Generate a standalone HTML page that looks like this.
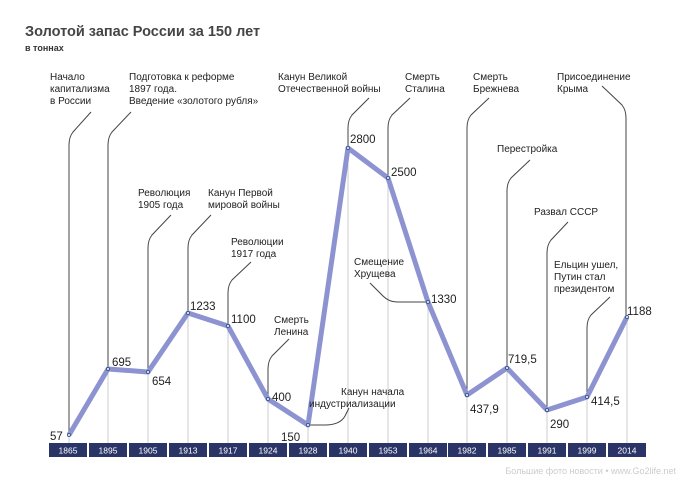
<!DOCTYPE html>
<html><head><meta charset="utf-8"><style>
body{margin:0;background:#fff}
svg text{font-family:"Liberation Sans","DejaVu Sans",sans-serif;fill:#222}
</style></head><body>
<svg width="680" height="481" viewBox="0 0 680 481" xmlns="http://www.w3.org/2000/svg">
<text x="25" y="36" font-size="14.5" font-weight="bold" style="fill:#444">Золотой запас России за 150 лет</text>
<text x="25" y="51" font-size="9" font-weight="bold" style="fill:#333">в тоннах</text>
<g stroke="#ccc" stroke-width="1">
<line x1="69" y1="435" x2="69" y2="443"/><line x1="108" y1="369" x2="108" y2="443"/>
<line x1="148" y1="372" x2="148" y2="443"/><line x1="188" y1="313" x2="188" y2="443"/>
<line x1="228" y1="326" x2="228" y2="443"/><line x1="268" y1="399" x2="268" y2="443"/>
<line x1="308" y1="425" x2="308" y2="443"/><line x1="348" y1="148" x2="348" y2="443"/>
<line x1="388" y1="178" x2="388" y2="443"/><line x1="428" y1="302" x2="428" y2="443"/>
<line x1="467" y1="395" x2="467" y2="443"/><line x1="507" y1="368" x2="507" y2="443"/>
<line x1="547" y1="410" x2="547" y2="443"/><line x1="587" y1="397" x2="587" y2="443"/>
<line x1="627" y1="317" x2="627" y2="443"/>
</g>
<g stroke="#444" stroke-width="1" fill="none">
<path d="M91 112 L73 132 Q69 137 69 145 L69 435"/>
<path d="M131 112 L112 132 Q108 137 108 145 L108 369"/>
<path d="M171 215 L152 235 Q148 240 148 248 L148 372"/>
<path d="M211 215 L192 235 Q188 240 188 248 L188 313"/>
<path d="M251 262 L232 280 Q228 285 228 293 L228 326"/>
<path d="M289 339 L272 356 Q268 361 268 369 L268 399"/>
<path d="M308 425 L325 425 Q340 425 345 416 L349 408"/>
<path d="M369 98 L352 115 Q348 120 348 128 L348 148"/>
<path d="M410 98 L392 115 Q388 120 388 128 L388 178"/>
<path d="M370 283 L383 296 Q389 302 397 302 L428 302"/>
<path d="M489 98 L471 115 Q467 120 467 128 L467 395"/>
<path d="M530 160 L511 178 Q507 183 507 191 L507 368"/>
<path d="M568 222 L551 240 Q547 245 547 253 L547 410"/>
<path d="M610 297 L591 315 Q587 320 587 328 L587 397"/>
<path d="M602 86 L622 105 Q626 110 626 118 L626 317"/>
</g>
<polyline fill="none" stroke="#8c93d0" stroke-width="5" stroke-linejoin="round" points="69,435 108,369 148,372 188,313 228,326 268,399 308,425 348,148 388,178 428,302 467,395 507,368 547,410 587,397 627,317"/>
<g fill="#fff" stroke="#3a5a8a" stroke-width="1">
<circle cx="69" cy="435" r="1.5"/><circle cx="108" cy="369" r="1.5"/><circle cx="148" cy="372" r="1.5"/><circle cx="188" cy="313" r="1.5"/><circle cx="228" cy="326" r="1.5"/><circle cx="268" cy="399" r="1.5"/><circle cx="308" cy="425" r="1.5"/><circle cx="348" cy="148" r="1.5"/><circle cx="388" cy="178" r="1.5"/><circle cx="428" cy="302" r="1.5"/><circle cx="467" cy="395" r="1.5"/><circle cx="507" cy="368" r="1.5"/><circle cx="547" cy="410" r="1.5"/><circle cx="587" cy="397" r="1.5"/><circle cx="627" cy="317" r="1.5"/>
</g>
<g font-size="11.5">
<text x="50" y="440">57</text><text x="112" y="366">695</text><text x="152" y="385">654</text>
<text x="190" y="310">1233</text><text x="231" y="323">1100</text><text x="272" y="401">400</text>
<text x="281" y="441">150</text><text x="350" y="143">2800</text><text x="391" y="176">2500</text>
<text x="431" y="303">1330</text><text x="470" y="413">437,9</text><text x="508" y="363">719,5</text>
<text x="550" y="428">290</text><text x="591" y="405">414,5</text><text x="627" y="315">1188</text>
</g>
<g font-size="10">
<text x="50" y="80">Начало</text><text x="50" y="92">капитализма</text><text x="50" y="104">в России</text>
<text x="129" y="80">Подготовка к реформе</text><text x="129" y="92">1897 года.</text><text x="129" y="104">Введение «золотого рубля»</text>
<text x="138" y="196">Революция</text><text x="138" y="208">1905 года</text>
<text x="208" y="196">Канун Первой</text><text x="208" y="208">мировой войны</text>
<text x="231" y="245">Революции</text><text x="231" y="257">1917 года</text>
<text x="274" y="323">Смерть</text><text x="274" y="335">Ленина</text>
<text x="341" y="395">Канун начала</text><text x="309" y="407">индустриализации</text>
<text x="278" y="80">Канун Великой</text><text x="278" y="92">Отечественной войны</text>
<text x="405" y="80">Смерть</text><text x="405" y="92">Сталина</text>
<text x="354" y="265">Смещение</text><text x="354" y="277">Хрущева</text>
<text x="473" y="80">Смерть</text><text x="473" y="92">Брежнева</text>
<text x="497" y="152">Перестройка</text>
<text x="534" y="215">Развал СССР</text>
<text x="554" y="268">Ельцин ушел,</text><text x="554" y="280">Путин стал</text><text x="554" y="292">президентом</text>
<text x="557" y="80">Присоединение</text><text x="557" y="92">Крыма</text>
</g>
<g fill="#2a3466">
<rect x="49" y="443" width="38" height="14"/><rect x="89" y="443" width="38" height="14"/><rect x="129" y="443" width="38" height="14"/><rect x="169" y="443" width="38" height="14"/><rect x="209" y="443" width="38" height="14"/><rect x="249" y="443" width="38" height="14"/><rect x="289" y="443" width="38" height="14"/><rect x="329" y="443" width="38" height="14"/><rect x="369" y="443" width="38" height="14"/><rect x="409" y="443" width="38" height="14"/><rect x="448" y="443" width="38" height="14"/><rect x="488" y="443" width="38" height="14"/><rect x="528" y="443" width="38" height="14"/><rect x="568" y="443" width="38" height="14"/><rect x="608" y="443" width="38" height="14"/>
</g>
<g font-size="8.5" text-anchor="middle" style="fill:#fff">
<text x="68" y="453.5" style="fill:#fff">1865</text><text x="108" y="453.5" style="fill:#fff">1895</text><text x="148" y="453.5" style="fill:#fff">1905</text><text x="188" y="453.5" style="fill:#fff">1913</text><text x="228" y="453.5" style="fill:#fff">1917</text><text x="268" y="453.5" style="fill:#fff">1924</text><text x="308" y="453.5" style="fill:#fff">1928</text><text x="348" y="453.5" style="fill:#fff">1940</text><text x="388" y="453.5" style="fill:#fff">1953</text><text x="428" y="453.5" style="fill:#fff">1964</text><text x="467" y="453.5" style="fill:#fff">1982</text><text x="507" y="453.5" style="fill:#fff">1985</text><text x="547" y="453.5" style="fill:#fff">1991</text><text x="587" y="453.5" style="fill:#fff">1999</text><text x="627" y="453.5" style="fill:#fff">2014</text>
</g>
<text x="676" y="474" font-size="9" text-anchor="end" style="fill:#ccc">Большие фото новости • www.Go2life.net</text>
</svg>
</body></html>
